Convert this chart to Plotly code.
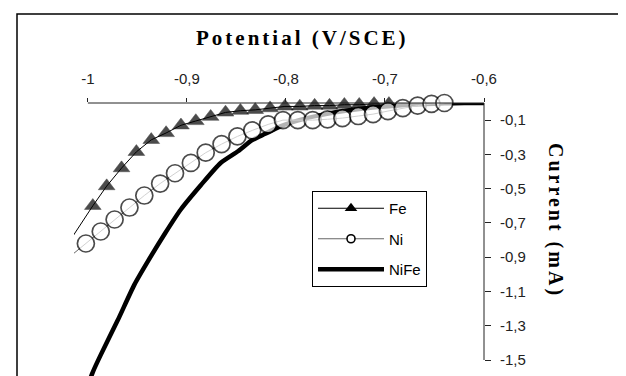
import plotly.graph_objects as go

# ---------------- data ----------------
fe_x = [-1.02, -0.995, -0.981, -0.966, -0.951, -0.936, -0.921, -0.906, -0.891, -0.876, -0.861,
        -0.846, -0.831, -0.816, -0.801, -0.786, -0.771, -0.756, -0.741, -0.726, -0.711, -0.696]
fe_y = [-0.82, -0.60, -0.485, -0.38, -0.285, -0.215, -0.175, -0.13, -0.105, -0.08, -0.055,
        -0.045, -0.04, -0.03, -0.02, -0.02, -0.015, -0.015, -0.01, -0.01, -0.005, -0.005]

ni_x = [-1.02, -1.002, -0.987, -0.973, -0.958, -0.943, -0.927, -0.912, -0.896, -0.881, -0.865,
        -0.849, -0.834, -0.818, -0.803, -0.788, -0.773, -0.758, -0.743, -0.727, -0.712,
        -0.697, -0.682, -0.667, -0.653, -0.640]
ni_y = [-0.905, -0.82, -0.75, -0.68, -0.61, -0.54, -0.47, -0.41, -0.35, -0.29, -0.24,
        -0.195, -0.16, -0.125, -0.10, -0.10, -0.10, -0.095, -0.088, -0.076, -0.065,
        -0.047, -0.03, -0.015, -0.005, 0.0]

nife_x = [-1.001, -0.995, -0.987, -0.970, -0.953, -0.939, -0.922, -0.906, -0.886, -0.866,
          -0.848, -0.835, -0.821, -0.805, -0.78, -0.76, -0.74, -0.72, -0.70, -0.68, -0.66,
          -0.64, -0.62, -0.60]
nife_y = [-1.66, -1.57, -1.47, -1.27, -1.06, -0.92, -0.76, -0.62, -0.48, -0.35,
          -0.28, -0.22, -0.18, -0.135, -0.09, -0.065, -0.045, -0.03, -0.02, -0.012, -0.006,
          -0.002, 0.0, 0.0]

series_names = ["Fe", "Ni", "NiFe"]

x_tickvals = [-1.0, -0.9, -0.8, -0.7, -0.6]
x_ticktext = ["-1", "-0,9", "-0,8", "-0,7", "-0,6"]
y_tickvals = [-0.1, -0.3, -0.5, -0.7, -0.9, -1.1, -1.3, -1.5]
y_ticktext = ["-0,1", "-0,3", "-0,5", "-0,7", "-0,9", "-1,1", "-1,3", "-1,5"]

# ---------------- layout constants ----------------
W, H = 626, 376
ML, MR, MT, MB = 66, 150, 95, 0
XR = [-1.014, -0.6]
YR = [-1.64, 0.0]
AX_X = [-1.0, -0.6]
AX_Y = [-1.5, 0.0]

def px(v):
    return (v - XR[0]) / (XR[1] - XR[0])

def py(v):
    return (v - YR[0]) / (YR[1] - YR[0])

def pix_x(p):
    return (p - ML) / (W - ML - MR)

def pix_y(p):
    return (H - MB - p) / (H - MT - MB)

fig = go.Figure()

# data traces (legend entries drawn by separate legend-only traces below)
fig.add_trace(go.Scatter(
    x=nife_x, y=nife_y, name=series_names[2], mode="lines",
    line=dict(color="black", width=4.5, shape="spline", smoothing=0.6), showlegend=False))

fe_sizes = [0] + [14.5] * (len(fe_x) - 1)
fig.add_trace(go.Scatter(
    x=fe_x, y=fe_y, name=series_names[0], mode="lines+markers",
    line=dict(color="black", width=1),
    marker=dict(symbol="triangle-up", size=fe_sizes, color="black",
                line=dict(color="black", width=0.5)),
    cliponaxis=False, showlegend=False))

ni_sizes = [0] + [17] * (len(ni_x) - 1)
fig.add_trace(go.Scatter(
    x=ni_x, y=ni_y, name=series_names[1], mode="lines+markers",
    line=dict(color="#666666", width=1),
    marker=dict(symbol="circle", size=ni_sizes, color="white",
                line=dict(color="black", width=1.7)),
    cliponaxis=False, showlegend=False))

# legend entries
fig.add_trace(go.Scatter(
    x=[None], y=[None], name=series_names[0], mode="lines+markers", legendgroup="a",
    line=dict(color="black", width=1),
    marker=dict(symbol="triangle-up", size=11, color="black")))
fig.add_trace(go.Scatter(
    x=[None], y=[None], name=series_names[1], mode="lines+markers", legendgroup="b",
    line=dict(color="#666666", width=1),
    marker=dict(symbol="circle", size=8, color="white", line=dict(color="black", width=1.6))))
fig.add_trace(go.Scatter(
    x=[None], y=[None], name=series_names[2], mode="lines", legendgroup="c",
    line=dict(color="black", width=4.5)))

fig.update_layout(
    width=W, height=H,
    margin=dict(l=ML, r=MR, t=MT, b=MB, pad=0),
    paper_bgcolor="white", plot_bgcolor="white",
    showlegend=True,
    legend=dict(x=pix_x(304), y=pix_y(183), xanchor="left", yanchor="top",
                bordercolor="black", borderwidth=1, bgcolor="white",
                font=dict(family="Liberation Sans, Arial", size=15, color="black"),
                itemwidth=66, itemsizing="trace", tracegroupgap=8,
                traceorder="grouped"),
    xaxis=dict(range=XR, side="top", showgrid=False, zeroline=False, showline=False,
               tickmode="array", tickvals=x_tickvals, ticktext=x_ticktext,
               ticks="outside", ticklen=4, tickwidth=1, tickcolor="#222",
               ticklabelstandoff=8,
               tickfont=dict(family="Liberation Sans, Arial", size=15, color="#222")),
    yaxis=dict(range=YR, side="right", showgrid=False, zeroline=False, showline=False,
               tickmode="array", tickvals=y_tickvals, ticktext=y_ticktext,
               ticks="outside", ticklen=6, tickwidth=1, tickcolor="#222",
               ticklabelstandoff=6,
               tickfont=dict(family="Liberation Sans, Arial", size=15, color="#222")),
)

# axis lines
fig.add_shape(type="line", xref="paper", yref="paper",
              x0=px(AX_X[0]), x1=px(AX_X[1]), y0=py(0), y1=py(0),
              line=dict(color="#222", width=1))
fig.add_shape(type="line", xref="paper", yref="paper",
              x0=px(AX_X[1]), x1=px(AX_X[1]), y0=py(AX_Y[0]), y1=py(AX_Y[1]),
              line=dict(color="#222", width=1))

# outer frame
fig.add_shape(type="rect", xref="paper", yref="paper",
              x0=pix_x(9), x1=pix_x(621), y0=pix_y(390), y1=pix_y(6),
              line=dict(color="black", width=1.5), fillcolor="rgba(0,0,0,0)", layer="below")

fig.add_annotation(
    text='<span style="letter-spacing:3px">Potential (V/SCE)</span>',
    xref="paper", yref="paper", x=pix_x(294), y=pix_y(30),
    showarrow=False, xanchor="center", yanchor="middle",
    font=dict(family="Liberation Serif, Times New Roman", size=21, color="black", weight="bold"))

fig.add_annotation(
    text='<span style="letter-spacing:3px">Current (mA)</span>',
    xref="paper", yref="paper", x=pix_x(548), y=pix_y(212),
    showarrow=False, xanchor="center", yanchor="middle", textangle=90,
    font=dict(family="Liberation Serif, Times New Roman", size=20, color="black", weight="bold"))

fig.write_html("out.html")
